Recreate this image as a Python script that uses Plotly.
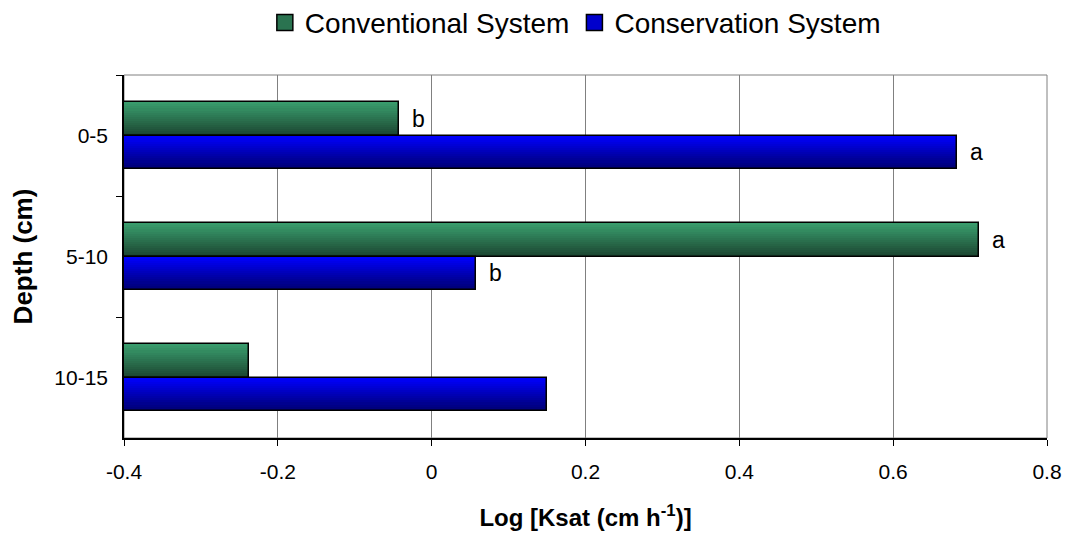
import plotly.graph_objects as go

depths = ["0-5", "5-10", "10-15"]
conventional = [-0.043, 0.711, -0.238]
conservation = [0.683, 0.058, 0.150]
conv_letters = ["b", "a", ""]
cons_letters = ["a", "b", ""]
x_ticks = [-0.4, -0.2, 0, 0.2, 0.4, 0.6, 0.8]
axis_min = -0.4

FONT = "Liberation Sans, Arial, sans-serif"
fig = go.Figure()

BAR_W = 0.275
N = 16

def hexmix(c1, c2, t):
    a = [int(c1[i:i+2], 16) for i in (1, 3, 5)]
    b = [int(c2[i:i+2], 16) for i in (1, 3, 5)]
    return "#" + "".join(f"{round(a[k] + (b[k]-a[k])*t):02x}" for k in range(3))

series = [
    ("Conventional System", conventional, -BAR_W, "#3a9e6e", "#1b4530", "#2a7350"),
    ("Conservation System", conservation, 0.0, "#0000ff", "#000070", "#0000cc"),
]

for name, vals, off, ctop, cbot, cmid in series:
    lengths = [v - axis_min for v in vals]
    for i in range(N):
        t = (i + 0.5) / N
        fig.add_trace(go.Bar(y=depths, x=lengths, base=axis_min, orientation="h",
                             width=BAR_W / N * 1.08, offset=off + BAR_W * i / N,
                             showlegend=False, hoverinfo="skip",
                             marker=dict(color=hexmix(ctop, cbot, t), line=dict(width=0))))
    fig.add_trace(go.Bar(y=depths, x=lengths, base=axis_min, orientation="h",
                         width=BAR_W, offset=off, showlegend=False, hoverinfo="skip",
                         marker=dict(color="rgba(0,0,0,0)", line=dict(color="black", width=1.5))))

# legend entries (no visible points)
for rank, (name, vals, off, ctop, cbot, cmid) in enumerate(series):
    fig.add_trace(go.Scatter(x=[None], y=[depths[0]], mode="markers", name=name,
                             legendrank=rank + 1, hoverinfo="skip",
                             marker=dict(symbol="square", size=16, color=cmid,
                                         line=dict(color="black", width=1.5))))

# letters
CAT_PX = 121
for vals, letters, dy in [(conventional, conv_letters, -0.1375), (conservation, cons_letters, 0.1375)]:
    for d, v, l in zip(depths, vals, letters):
        if l:
            fig.add_annotation(x=v, y=d, text=l, showarrow=False, xanchor="left",
                               xshift=11, yshift=-dy * CAT_PX,
                               font=dict(size=23, color="black", family=FONT))

fig.add_shape(type="rect", xref="paper", yref="paper", x0=0, x1=1, y0=0, y1=1,
              line=dict(color="#808080", width=1), layer="below")

fig.update_layout(
    width=1062, height=531,
    margin=dict(l=116, r=23, t=67, b=101, autoexpand=False),
    barmode="overlay",
    bargap=0,
    plot_bgcolor="white", paper_bgcolor="white",
    font=dict(family=FONT, color="black", size=21),
    showlegend=True,
    legend=dict(orientation="h", x=0.489, xref="paper", xanchor="center", y=0.972,
                yref="container", yanchor="middle", font=dict(size=28),
                itemsizing="trace", traceorder="normal", itemwidth=30,
                bgcolor="rgba(0,0,0,0)"),
    xaxis=dict(range=[-0.4, 0.8], tickvals=x_ticks, ticktext=[f"{t:g}" for t in x_ticks],
               automargin=False,
               showgrid=True, gridcolor="#808080", gridwidth=1, zeroline=False,
               showline=True, linecolor="black", linewidth=1.5,
               ticks="outside", ticklen=6, tickcolor="black",
               ticklabelstandoff=8,
               tickfont=dict(size=21),
               title=dict(text="<b>Log [Ksat (cm h<sup>-1</sup>)]</b>", font=dict(size=24), standoff=27)),
    yaxis=dict(type="category", categoryorder="array", categoryarray=depths,
               range=[2.5, -0.5], automargin=False,
               showline=True, linecolor="black", linewidth=1.5,
               ticks="outside", ticklen=6, tickcolor="black", tickson="boundaries",
               ticklabelstandoff=10,
               showgrid=False, tickfont=dict(size=21),
               title=dict(text="<b>Depth (cm)</b>", font=dict(size=26), standoff=16)),
)

fig.write_html("out.html")
